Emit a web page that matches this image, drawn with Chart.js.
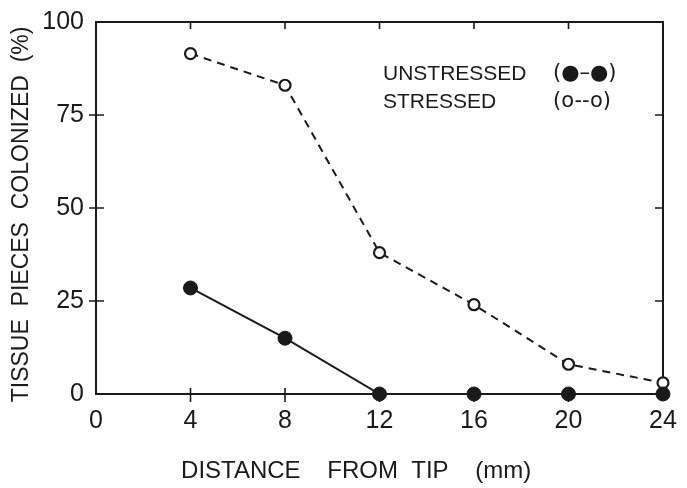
<!DOCTYPE html>
<html>
<head>
<meta charset="utf-8">
<script src="https://cdn.jsdelivr.net/npm/chart.js@4"></script>
<style>
  html, body { margin: 0; padding: 0; background: #ffffff; }
  #wrap { width: 687px; height: 488px; }
</style>
</head>
<body>
<div id="wrap"><canvas id="c" width="687" height="488"></canvas></div>
<script>
// ---- data ----
const distances = [4, 8, 12, 16, 20, 24];           // mm from tip
const unstressed = [28.5, 15, 0, 0, 0, 0];          // % colonized (filled circles, solid line)
const stressed   = [91.5, 83, 38, 24, 8, 3];        // % colonized (open circles, dashed line)
const xTicks = [0, 4, 8, 12, 16, 20, 24];
const yTicks = [0, 25, 50, 75, 100];
const legendLabels = ['UNSTRESSED', 'STRESSED'];
const legendSymbols = ['(\u25CF\u2013\u25CF)', '(o--o)'];
const xTitle = 'DISTANCE    FROM  TIP    (mm)       ';
const yTitle = 'TISSUE  PIECES  COLONIZED  (%)  ';

const INK = '#1a1a1a';
const FONT = "'Liberation Sans', Arial, sans-serif";

const toXY = (vals) => distances.map((d, i) => ({ x: d, y: vals[i] }));

const framePlugin = {
  id: 'frame',
  beforeDatasetsDraw(chart) {
    const { ctx, chartArea: a, scales: { x, y } } = chart;
    ctx.save();
    ctx.strokeStyle = INK;
    ctx.lineWidth = 2;
    ctx.strokeRect(a.left, a.top, a.right - a.left, a.bottom - a.top);
    ctx.lineWidth = 1.6;
    ctx.beginPath();
    xTicks.forEach(v => {
      if (v === 0 || v === 24) return;
      const px = x.getPixelForValue(v);
      ctx.moveTo(px, a.bottom - 6); ctx.lineTo(px, a.bottom + 8);
      ctx.moveTo(px, a.top); ctx.lineTo(px, a.top + 7);
    });
    yTicks.forEach(v => {
      if (v === 0 || v === 100) return;
      const py = y.getPixelForValue(v);
      ctx.moveTo(a.left - 7, py); ctx.lineTo(a.left + 8, py);
      ctx.moveTo(a.right, py); ctx.lineTo(a.right - 8, py);
    });
    ctx.stroke();
    ctx.restore();
  }
};

const legendPlugin = {
  id: 'textLegend',
  afterDraw(chart) {
    const { ctx } = chart;
    ctx.save();
    ctx.fillStyle = INK;
    ctx.textBaseline = 'middle';
    ctx.font = "21px " + FONT;
    ctx.fillText(legendLabels[0], 383, 74);
    ctx.fillText(legendLabels[1], 383, 102);
    ctx.font = "21px 'DejaVu Sans', sans-serif";
    ctx.fillText(legendSymbols[0], 553, 74);
    ctx.fillText(legendSymbols[1], 553, 102);
    ctx.restore();
  }
};

new Chart(document.getElementById('c'), {
  type: 'line',
  data: {
    datasets: [
      {
        label: legendLabels[0],
        data: toXY(unstressed),
        borderColor: INK,
        borderWidth: 2,
        pointRadius: 7,
        pointBackgroundColor: INK,
        pointBorderColor: INK,
        pointBorderWidth: 1,
        tension: 0,
        clip: false
      },
      {
        label: legendLabels[1],
        data: toXY(stressed),
        borderColor: INK,
        borderWidth: 2,
        borderDash: [8, 6],
        pointRadius: 5.5,
        pointBackgroundColor: '#ffffff',
        pointBorderColor: INK,
        pointBorderWidth: 2.2,
        tension: 0,
        clip: false
      }
    ]
  },
  options: {
    responsive: false,
    animation: false,
    devicePixelRatio: 1,
    layout: { padding: { top: 22, right: 24, left: 0, bottom: 0 } },
    plugins: { legend: { display: false }, tooltip: { enabled: false } },
    scales: {
      x: {
        type: 'linear',
        min: 0, max: 24,
        afterBuildTicks(s) { s.ticks = xTicks.map(v => ({ value: v })); },
        afterFit(s) { s.height = 94; s.paddingLeft = 0; s.paddingRight = 0; },
        grid: { display: false, drawTicks: false },
        border: { display: false },
        ticks: { color: INK, font: { family: FONT, size: 25 }, padding: 12, maxRotation: 0 },
        title: {
          display: true,
          text: xTitle,
          color: INK,
          font: { family: FONT, size: 24 },
          padding: { top: 0, bottom: 2 }
        }
      },
      y: {
        min: 0, max: 100,
        afterBuildTicks(s) { s.ticks = yTicks.map(v => ({ value: v })); },
        afterFit(s) { s.width = 96; s.paddingTop = 0; s.paddingBottom = 0; },
        grid: { display: false, drawTicks: false },
        border: { display: false },
        ticks: { color: INK, font: { family: FONT, size: 25 }, padding: 12 },
        title: {
          display: true,
          text: yTitle,
          color: INK,
          font: { family: FONT, size: 23 },
          padding: { top: 8, bottom: 0 }
        }
      }
    }
  },
  plugins: [framePlugin, legendPlugin]
});
</script>
</body>
</html>
